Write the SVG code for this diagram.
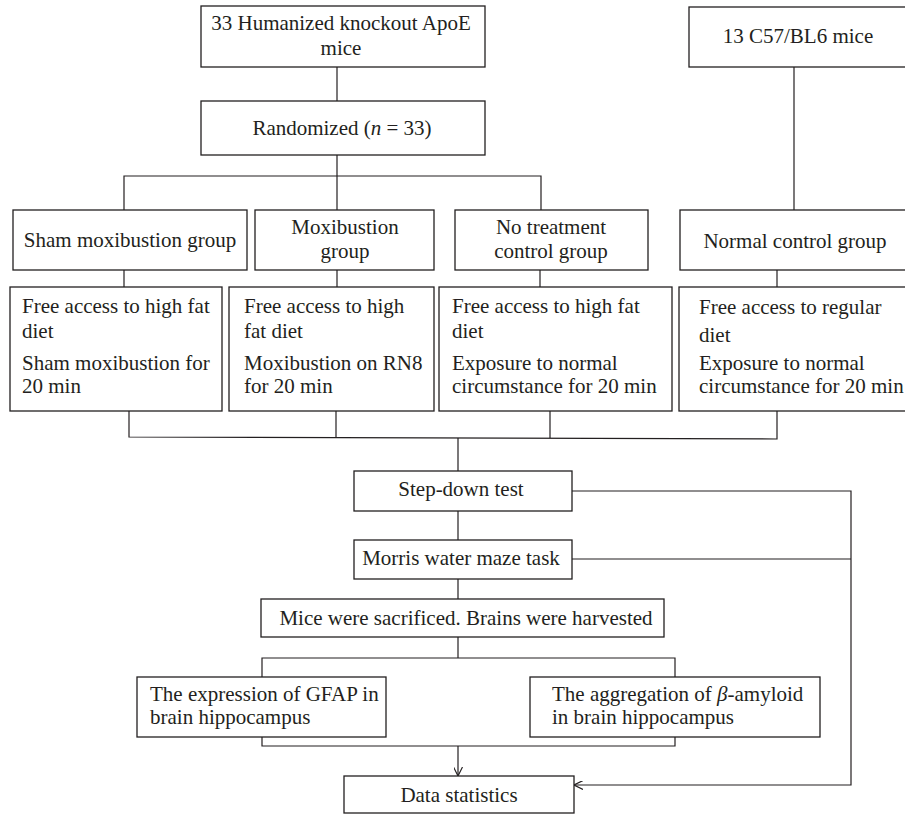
<svg xmlns="http://www.w3.org/2000/svg" width="905" height="816" viewBox="0 0 905 816">
<defs>
<style>
.box{fill:#fff;stroke:#231f20;stroke-width:1.3}
.ln{fill:none;stroke:#231f20;stroke-width:1.2}
text{font-family:"Liberation Serif","Times New Roman",serif;font-size:21px;fill:#231f20}
.c{text-anchor:middle}
</style>
<marker id="arr" viewBox="0 0 10 10" refX="10" refY="5" markerWidth="9" markerHeight="9" markerUnits="userSpaceOnUse" orient="auto">
<path d="M0,0 L10,5 L0,10" fill="none" stroke="#231f20" stroke-width="1.3"/>
</marker>
</defs>
<rect width="905" height="816" fill="#fff"/>
<g id="connectors">
<line class="ln" x1="337" y1="67" x2="337" y2="101"/>
<polyline class="ln" points="124,210 124,176 541,176 541,210"/>
<line class="ln" x1="337" y1="155" x2="337" y2="210"/>
<line class="ln" x1="794" y1="67" x2="794" y2="210"/>
<line class="ln" x1="124" y1="270" x2="124" y2="287"/>
<line class="ln" x1="337" y1="270" x2="337" y2="287"/>
<line class="ln" x1="540" y1="270" x2="540" y2="287"/>
<line class="ln" x1="777" y1="270" x2="777" y2="287"/>
<polyline class="ln" points="129,411 129,437 777,439 777,411"/>
<line class="ln" x1="336" y1="411" x2="336" y2="437"/>
<line class="ln" x1="550" y1="411" x2="550" y2="438"/>
<line class="ln" x1="458" y1="438" x2="458" y2="471"/>
<line class="ln" x1="458" y1="511" x2="458" y2="540"/>
<line class="ln" x1="458" y1="579" x2="458" y2="599"/>
<line class="ln" x1="458" y1="637" x2="458" y2="658"/>
<polyline class="ln" points="262,677 262,658 675,658 675,677"/>
<polyline class="ln" points="262,737 262,746 675,746 675,737"/>
<line class="ln" x1="458" y1="746" x2="458" y2="776" marker-end="url(#arr)"/>
<polyline class="ln" points="572,491 851,491 851,785 574,785" marker-end="url(#arr)"/>
<line class="ln" x1="572" y1="559" x2="851" y2="559"/>
</g>
<g id="apoe">
<rect class="box" x="201" y="6" width="284" height="61"/>
<text class="c" x="341" y="30">33 Humanized knockout ApoE</text>
<text class="c" x="341" y="55">mice</text>
</g>
<g id="c57">
<rect class="box" x="689" y="7" width="230" height="60"/>
<text class="c" x="798" y="43">13 C57/BL6 mice</text>
</g>
<g id="randomized">
<rect class="box" x="201" y="101" width="284" height="54"/>
<text class="c" x="342" y="135">Randomized (<tspan font-style="italic">n</tspan> = 33)</text>
</g>
<g id="sham">
<rect class="box" x="13" y="210" width="234" height="60"/>
<text class="c" x="130" y="247">Sham moxibustion group</text>
</g>
<g id="moxi">
<rect class="box" x="255" y="210" width="179" height="60"/>
<text class="c" x="345" y="234">Moxibustion</text>
<text class="c" x="345" y="258">group</text>
</g>
<g id="notreat">
<rect class="box" x="455" y="210" width="193" height="60"/>
<text class="c" x="551" y="234">No treatment</text>
<text class="c" x="551" y="258">control group</text>
</g>
<g id="normal">
<rect class="box" x="680" y="210" width="240" height="60"/>
<text class="c" x="795" y="248">Normal control group</text>
</g>
<g id="sham-proc">
<rect class="box" x="10" y="287" width="212" height="124"/>
<text x="22" y="313">Free access to high fat</text>
<text x="22" y="338">diet</text>
<text x="22" y="370">Sham moxibustion for</text>
<text x="22" y="393">20 min</text>
</g>
<g id="moxi-proc">
<rect class="box" x="229" y="287" width="205" height="124"/>
<text x="244" y="313">Free access to high</text>
<text x="244" y="338">fat diet</text>
<text x="244" y="370">Moxibustion on RN8</text>
<text x="244" y="393">for 20 min</text>
</g>
<g id="notreat-proc">
<rect class="box" x="439" y="287" width="233" height="124"/>
<text x="452" y="313">Free access to high fat</text>
<text x="452" y="338">diet</text>
<text x="452" y="370">Exposure to normal</text>
<text x="452" y="393">circumstance for 20 min</text>
</g>
<g id="normal-proc">
<rect class="box" x="679" y="287" width="240" height="124"/>
<text x="699" y="314">Free access to regular</text>
<text x="699" y="342">diet</text>
<text x="699" y="370">Exposure to normal</text>
<text x="699" y="393">circumstance for 20 min</text>
</g>
<g id="stepdown">
<rect class="box" x="354" y="471" width="218" height="40"/>
<text class="c" x="461" y="496">Step-down test</text>
</g>
<g id="morris">
<rect class="box" x="354" y="540" width="218" height="39"/>
<text class="c" x="461" y="565">Morris water maze task</text>
</g>
<g id="sacrificed">
<rect class="box" x="261" y="599" width="403" height="38"/>
<text class="c" x="466" y="625">Mice were sacrificed. Brains were harvested</text>
</g>
<g id="gfap">
<rect class="box" x="137" y="677" width="249" height="60"/>
<text x="150" y="701">The expression of GFAP in</text>
<text x="150" y="724">brain hippocampus</text>
</g>
<g id="amyloid">
<rect class="box" x="530" y="677" width="290" height="60"/>
<text x="552" y="701">The aggregation of <tspan font-style="italic">β</tspan>-amyloid</text>
<text x="552" y="724">in brain hippocampus</text>
</g>
<g id="data">
<rect class="box" x="344" y="776" width="230" height="37"/>
<text class="c" x="459" y="802">Data statistics</text>
</g>
</svg>
